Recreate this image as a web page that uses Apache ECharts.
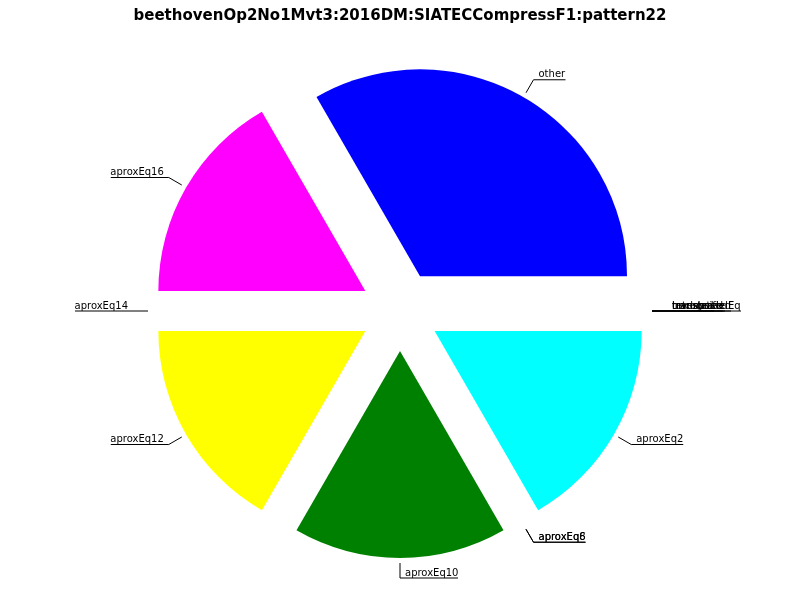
<!DOCTYPE html>
<html><head><meta charset="utf-8">
<script src="https://cdn.jsdelivr.net/npm/echarts@6/dist/echarts.min.js"></script>
<style>html,body{margin:0;padding:0;background:#fff}#main{width:800px;height:600px}</style>
</head><body><div id="main"></div>
<script>
const titleText = 'beethovenOp2No1Mvt3:2016DM:SIATECCompressF1:pattern22';
const categories = ['unclassified', 'translated', 'inverted', 'retrograde', 'transposedEq',
  'aproxEq2', 'aproxEq6', 'aproxEq8', 'aproxEq10', 'aproxEq12', 'aproxEq14', 'aproxEq16', 'other'];
const values = [0, 0, 0, 0, 0, 1, 0, 0, 1, 1, 0, 1, 2];
const sliceColors = ['#000000', '#000000', '#000000', '#000000', '#000000',
  '#00ffff', '#808080', '#800080', '#008000', '#ffff00', '#ff0000', '#ff00ff', '#0000ff'];

const FONT = '10px "DejaVu Sans"';
const ctx = document.createElement('canvas').getContext('2d');
ctx.font = FONT;
function textW(s) { return Math.round(ctx.measureText(s).width); }

const chart = echarts.init(document.getElementById('main'));

const pieData = categories.map((c, i) => ({
  name: c, value: values[i], selected: true,
  itemStyle: { color: sliceColors[i] }
}));
const labelData = categories.map((c, i) => {
  const w = textW(c);
  return {
    name: c, value: values[i], selected: true,
    label: { distanceToLabelLine: -w },
    labelLine: { length: 15, length2: w + 5 }
  };
});

const common = {
  type: 'pie',
  center: [400, 311],
  startAngle: 0,
  clockwise: true,
  selectedMode: 'multiple',
  selectedOffset: 40,
  avoidLabelOverlap: false,
  minShowLabelAngle: 0,
  emphasis: { disabled: true },
  animation: false
};

chart.setOption({
  animation: false,
  backgroundColor: '#fff',
  title: {
    text: titleText, left: 'center', top: 4,
    textStyle: { fontFamily: 'DejaVu Sans', fontWeight: 'bold', fontSize: 15, color: '#000' }
  },
  series: [
    Object.assign({}, common, {
      radius: [0, 207],
      data: pieData,
      label: { show: false },
      labelLine: { show: false }
    }),
    Object.assign({}, common, {
      radius: [0, 212],
      silent: true,
      data: labelData,
      itemStyle: { color: 'rgba(0,0,0,0)', borderWidth: 0 },
      labelLayout: { hideOverlap: false, moveOverlap: null },
      label: {
        show: true, position: 'outside',
        fontFamily: 'DejaVu Sans', fontSize: 10, color: '#000',
        formatter: '{a|{b}}\n{s| }',
        rich: {
          a: { fontFamily: 'DejaVu Sans', fontSize: 10, color: '#000', lineHeight: 12 },
          s: { fontFamily: 'DejaVu Sans', fontSize: 10, lineHeight: 10 }
        }
      },
      labelLine: { show: true, length: 15, length2: 0, lineStyle: { color: '#000', width: 1 } }
    })
  ]
});
</script></body></html>
